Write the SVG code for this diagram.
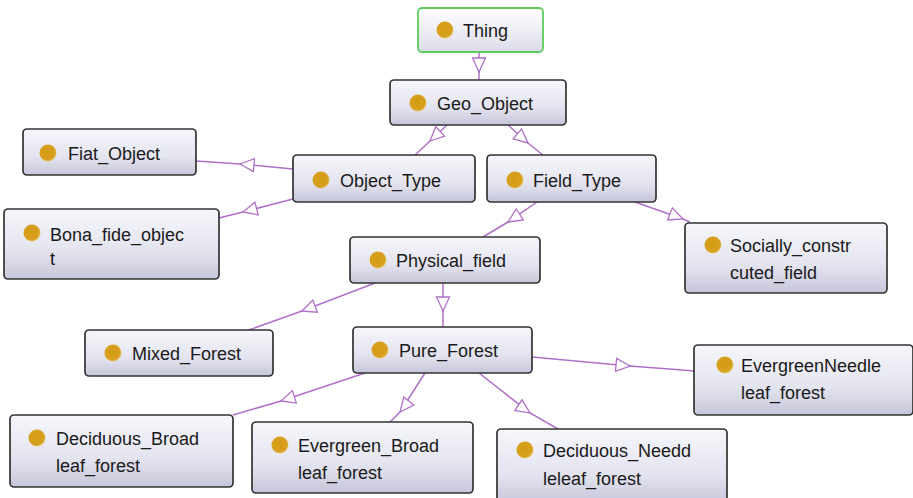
<svg xmlns="http://www.w3.org/2000/svg" width="913" height="498" viewBox="0 0 913 498">
<defs>
<linearGradient id="g" x1="0" y1="0" x2="0" y2="1">
<stop offset="0" stop-color="#f6f6fb"/>
<stop offset="0.6" stop-color="#e4e4f0"/>
<stop offset="1" stop-color="#c6c6da"/>
</linearGradient>
<linearGradient id="gt" x1="0" y1="0" x2="0" y2="1">
<stop offset="0" stop-color="#ffffff"/>
<stop offset="1" stop-color="#dcdcea"/>
</linearGradient>
<radialGradient id="dot" cx="0.45" cy="0.45" r="0.6">
<stop offset="0" stop-color="#d49a10"/>
<stop offset="0.75" stop-color="#d7a020"/>
<stop offset="1" stop-color="#f0d890"/>
</radialGradient>
<marker id="tri" viewBox="-15 -8 16 16" refX="0" refY="0" markerWidth="16" markerHeight="16" markerUnits="userSpaceOnUse" orient="auto">
<path d="M0,0 L-14,-6.5 L-14,6.5 Z" fill="#ffffff" stroke="#b070c8" stroke-width="1.3"/>
</marker>
</defs>
<style>
.box{fill:url(#g);stroke:#333333;stroke-width:1.7}
.thing{fill:url(#gt);stroke:#5ccc5c;stroke-width:1.8}
.dot{fill:url(#dot)}
text{font-family:"Liberation Sans",Arial,sans-serif;font-size:18px;fill:#1a1a1a}
.e{fill:none;stroke:#b070c8;stroke-width:1.5;marker-mid:url(#tri)}
</style>
<rect width="913" height="498" fill="#ffffff"/>
<g id="connectors">
<polyline class="e" points="479,52 479,72 479,80"/>
<polyline class="e" points="447,125 430,141 415,155"/>
<polyline class="e" points="508,125 528,143 543,155"/>
<polyline class="e" points="293,169 240,164 196,161"/>
<polyline class="e" points="293,199 243,212 219,218"/>
<polyline class="e" points="537,202 508,222 483,237"/>
<polyline class="e" points="635,202 683,219 690,222"/>
<polyline class="e" points="375,283 302,311 246,331"/>
<polyline class="e" points="443,283 443,311 443,327"/>
<polyline class="e" points="532,357 630,366 695,371"/>
<polyline class="e" points="365,373 281,401 233,415"/>
<polyline class="e" points="425,373 400,412 390,422"/>
<polyline class="e" points="479,373 530,413 558,429"/>
</g>
<g id="Thing"><rect class="thing" x="418" y="8" width="125" height="44" rx="4"/><circle class="dot" cx="445" cy="30" r="8.5"/><text x="463" y="37">Thing</text></g>
<g id="Geo_Object"><rect class="box" x="390" y="80" width="176" height="45" rx="4"/><circle class="dot" cx="418" cy="103" r="8.5"/><text x="437" y="110">Geo_Object</text></g>
<g id="Fiat_Object"><rect class="box" x="23" y="129" width="173" height="46" rx="4"/><circle class="dot" cx="48" cy="153" r="8.5"/><text x="68" y="160">Fiat_Object</text></g>
<g id="Bona_fide_object"><rect class="box" x="4" y="209" width="215" height="70" rx="4"/><circle class="dot" cx="32" cy="233" r="8.5"/><text x="50" y="241">Bona_fide_objec</text><text x="50" y="265">t</text></g>
<g id="Object_Type"><rect class="box" x="293" y="155" width="182" height="47" rx="4"/><circle class="dot" cx="321" cy="180" r="8.5"/><text x="340" y="187">Object_Type</text></g>
<g id="Field_Type"><rect class="box" x="487" y="155" width="169" height="47" rx="4"/><circle class="dot" cx="515" cy="180" r="8.5"/><text x="533" y="187">Field_Type</text></g>
<g id="Physical_field"><rect class="box" x="350" y="237" width="190" height="46" rx="4"/><circle class="dot" cx="378" cy="260" r="8.5"/><text x="396" y="267">Physical_field</text></g>
<g id="Socially_constructed_field"><rect class="box" x="685" y="223" width="202" height="70" rx="4"/><circle class="dot" cx="713" cy="245" r="8.5"/><text x="730" y="252">Socially_constr</text><text x="730" y="279">cuted_field</text></g>
<g id="Mixed_Forest"><rect class="box" x="85" y="330" width="188" height="46" rx="4"/><circle class="dot" cx="113" cy="353" r="8.5"/><text x="132" y="360">Mixed_Forest</text></g>
<g id="Pure_Forest"><rect class="box" x="353" y="327" width="179" height="46" rx="4"/><circle class="dot" cx="380" cy="350" r="8.5"/><text x="399" y="357">Pure_Forest</text></g>
<g id="EvergreenNeedleleaf_forest"><rect class="box" x="694" y="345" width="219" height="70" rx="4"/><circle class="dot" cx="725" cy="365" r="8.5"/><text x="741" y="372">EvergreenNeedle</text><text x="741" y="399">leaf_forest</text></g>
<g id="Deciduous_Broadleaf_forest"><rect class="box" x="10" y="415" width="223" height="72" rx="4"/><circle class="dot" cx="37" cy="438" r="8.5"/><text x="56" y="445">Deciduous_Broad</text><text x="56" y="472">leaf_forest</text></g>
<g id="Evergreen_Broadleaf_forest"><rect class="box" x="252" y="422" width="221" height="71" rx="4"/><circle class="dot" cx="280" cy="445" r="8.5"/><text x="298" y="452">Evergreen_Broad</text><text x="298" y="479">leaf_forest</text></g>
<g id="Deciduous_Neddleleaf_forest"><rect class="box" x="497" y="429" width="230" height="75" rx="4"/><circle class="dot" cx="525" cy="450" r="8.5"/><text x="543" y="457">Deciduous_Needd</text><text x="543" y="485">leleaf_forest</text></g>
</svg>
